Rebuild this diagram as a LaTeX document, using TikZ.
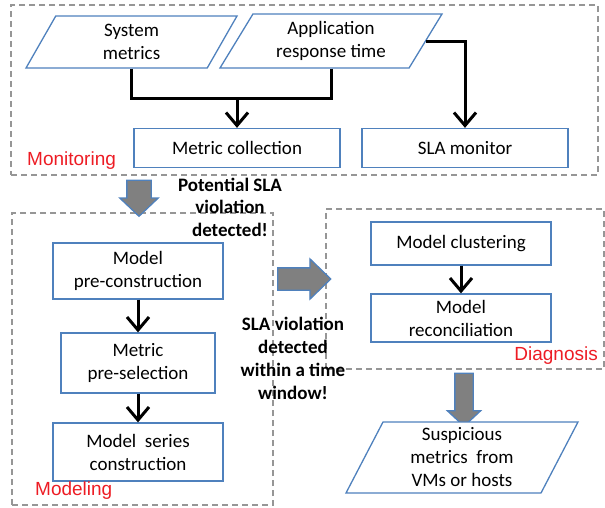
\documentclass[tikz,border=0pt]{standalone}
\usepackage{fontspec}
\setmainfont{Carlito}
\newfontfamily\tagfont{Liberation Sans}
\usetikzlibrary{shapes.geometric,shapes.arrows,arrows.meta}
\definecolor{boxblue}{RGB}{79,129,189}
\definecolor{tagred}{RGB}{237,28,36}
\definecolor{fatgray}{RGB}{128,128,128}
\definecolor{framegray}{RGB}{150,150,150}

\begin{document}
\begin{tikzpicture}[x=1pt, y=-1pt]
    % Define styles
    \tikzset{
        block/.style={
            draw=boxblue,
            line width=1.3pt,
            fill=white,
            align=center,
            inner sep=0pt,
            font=\fontsize{19}{23}\selectfont
        },
        data/.style={
            block,
            trapezium,
            trapezium stretches body,
            trapezium left angle=50,
            trapezium right angle=130
        },
        group/.style={
            draw=framegray,
            dash pattern=on 6pt off 4pt,
            line width=1.8pt,
            inner sep=0pt
        },
        tag/.style={
            text=tagred,
            inner sep=0pt,
            font=\tagfont\fontsize{19}{23}\selectfont
        },
        note/.style={
            align=center,
            inner sep=0pt,
            font=\bfseries\fontsize{19}{22.5}\selectfont
        },
        link/.style={
            line width=3pt
        },
        flow/.style={
            link,
            -{Straight Barb[length=13pt,width=22pt]}
        },
        fat/.style={
            single arrow,
            draw=boxblue,
            fill=fatgray,
            line width=1.3pt,
            inner xsep=0pt
        }
    }
    \useasboundingbox (0,0) rectangle (605,507);

    % Dashed stage frames
    \node[group, minimum width=587pt, minimum height=170pt] (mon) at (304.5,90) {};
    \node[group, minimum width=261pt, minimum height=292pt] (mod) at (142.5,359) {};
    \node[group, minimum width=278pt, minimum height=160pt] (dia) at (465,289) {};

    % Stage 1: Monitoring
    \node[data, minimum width=211pt, minimum height=52pt] (sysm) at (131.5,42) {System\\metrics};
    \node[data, minimum width=222pt, minimum height=54pt] (appr) at (331,41) {Application\\response time};
    \node[block, minimum width=206pt, minimum height=39pt] (mc) at (237,148) {Metric collection};
    \node[block, minimum width=206pt, minimum height=39pt] (slam) at (465,148) {SLA monitor};
    \coordinate (jn) at (237,98);
    \draw[link] (sysm.south) |- (jn);
    \draw[link] (appr.south) |- (jn);
    \draw[flow] (jn) -- (mc.north);
    \draw[flow] (appr.east) -| (slam.north);
    \node[tag, anchor=base west] (montag) at (27,165) {Monitoring};

    % Stage 2: Modeling
    \node[fat, inner ysep=11.5pt, minimum width=38pt, minimum height=36pt,
          single arrow head extend=7pt, single arrow tip angle=93, rotate=-90] (f1) at (139,192.5) {};
    \node[note] (pot) at (230,207) {Potential SLA\\violation\\detected!};
    \node[block, minimum width=170pt, minimum height=56pt] (pc) at (138,271) {Model\\pre-construction};
    \node[block, minimum width=154pt, minimum height=60pt] (ps) at (138,363) {Metric\\pre-selection};
    \node[block, minimum width=170pt, minimum height=58pt] (msc) at (138,452) {Model~~series\\construction};
    \draw[flow] (pc) -- (ps);
    \draw[flow] (ps) -- (msc);
    \node[tag, anchor=base west] (modtag) at (35,495) {Modeling};

    % Stage 3: Diagnosis
    \node[fat, inner ysep=10.5pt, minimum width=39pt, minimum height=53pt,
          single arrow head extend=9pt, single arrow tip angle=88] (f2) at (298.5,279) {};
    \node[note, font=\bfseries\fontsize{19}{23}\selectfont] (win) at (293,358)
        {SLA violation\\detected\\within a time\\window!};
    \node[block, minimum width=180pt, minimum height=43pt] (mcl) at (461,243.5) {Model clustering};
    \node[block, minimum width=180pt, minimum height=48pt] (mrc) at (461,318) {Model\\reconciliation};
    \draw[flow] (mcl) -- (mrc);
    \node[tag, anchor=base east] (diatag) at (598,360) {Diagnosis};

    % Result
    \node[fat, inner ysep=8.5pt, minimum width=32pt, minimum height=53pt,
          single arrow head extend=7.5pt, single arrow tip angle=94, rotate=-90] (f3) at (464,395.5) {};
    \node[data, trapezium left angle=58, trapezium right angle=122,
          minimum width=232pt, minimum height=71pt] (sus) at (462,457.5)
        {Suspicious\\metrics~~from\\VMs or hosts};
\end{tikzpicture}
\end{document}
